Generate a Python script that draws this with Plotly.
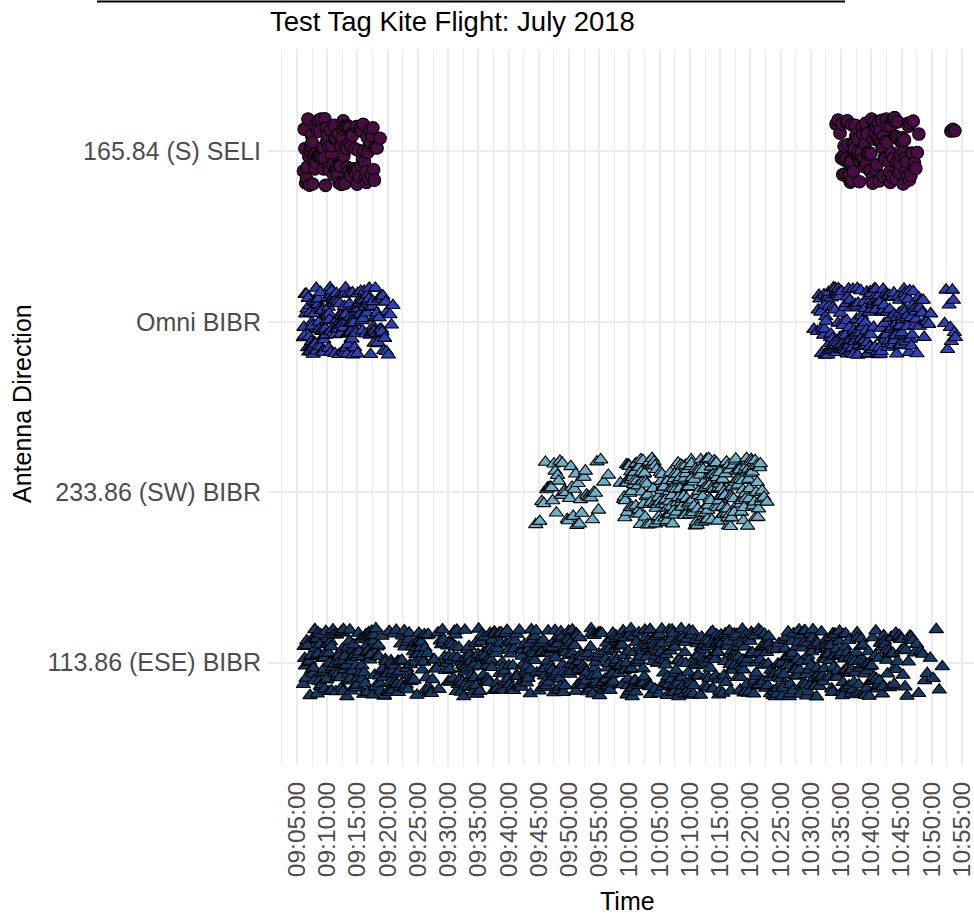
import math
import pandas as pd
import plotly.graph_objects as go

# ---------------------------------------------------------------------------
# Data: tag detections per minute for each antenna, 09:05 ... 10:54
# (each row below covers ten minutes)
# ---------------------------------------------------------------------------
FLIGHT_DAY = "2018-07-14"
FIRST_MINUTE = 5  # first entry of every count list is 09:05

TITLE = "Test Tag Kite Flight: July 2018"
X_TITLE = "Time"
Y_TITLE = "Antenna Direction"

ANTENNAS = ["113.86 (ESE) BIBR", "233.86 (SW) BIBR", "Omni BIBR", "165.84 (S) SELI"]

ESE_COUNTS = [
    0, 9, 10, 10, 11, 10, 10, 11, 10, 10,    # 09:05
    10, 11, 10, 10, 9, 10, 11, 10, 10, 10,   # 09:15
    10, 9, 6, 5, 8, 10, 10, 11, 10, 10,      # 09:25
    10, 11, 10, 10, 10, 9, 7, 10, 11, 10,    # 09:35
    10, 10, 11, 10, 10, 10, 11, 10, 10, 10,  # 09:45
    10, 11, 10, 10, 11, 10, 10, 10, 11, 10,  # 09:55
    10, 10, 11, 10, 10, 10, 10, 11, 10, 10,  # 10:05
    10, 10, 10, 11, 10, 10, 10, 10, 11, 10,  # 10:15
    10, 10, 10, 10, 11, 10, 10, 10, 10, 10,  # 10:25
    11, 10, 10, 10, 10, 10, 9, 8, 8, 7,      # 10:35
    6, 4, 3, 3, 2, 2, 2, 0, 0, 0,            # 10:45
]

SW_COUNTS = [
    0, 0, 0, 0, 0, 0, 0, 0, 0, 0,            # 09:05
    0, 0, 0, 0, 0, 0, 0, 0, 0, 0,            # 09:15
    0, 0, 0, 0, 0, 0, 0, 0, 0, 0,            # 09:25
    0, 0, 0, 0, 0, 0, 0, 0, 0, 1,            # 09:35
    3, 5, 5, 5, 5, 5, 5, 5, 4, 4,            # 09:45
    2, 1, 0, 1, 11, 12, 12, 11, 10, 11,      # 09:55
    12, 12, 13, 13, 12, 12, 12, 13, 12, 12,  # 10:05
    13, 12, 11, 11, 12, 11, 10, 2, 0, 0,     # 10:15
    0, 0, 0, 0, 0, 0, 0, 0, 0, 0,            # 10:25
    0, 0, 0, 0, 0, 0, 0, 0, 0, 0,            # 10:35
    0, 0, 0, 0, 0, 0, 0, 0, 0, 0,            # 10:45
]

OMNI_COUNTS = [
    0, 10, 14, 14, 15, 14, 14, 15, 14, 14,   # 09:05
    14, 13, 14, 11, 7, 4, 0, 0, 0, 0,        # 09:15
    0, 0, 0, 0, 0, 0, 0, 0, 0, 0,            # 09:25
    0, 0, 0, 0, 0, 0, 0, 0, 0, 0,            # 09:35
    0, 0, 0, 0, 0, 0, 0, 0, 0, 0,            # 09:45
    0, 0, 0, 0, 0, 0, 0, 0, 0, 0,            # 09:55
    0, 0, 0, 0, 0, 0, 0, 0, 0, 0,            # 10:05
    0, 0, 0, 0, 0, 0, 0, 0, 0, 0,            # 10:15
    0, 0, 0, 0, 0, 1, 7, 14, 14, 15,         # 10:25
    14, 14, 15, 14, 14, 14, 13, 14, 13, 12,  # 10:35
    11, 10, 8, 6, 3, 0, 0, 4, 6, 0,          # 10:45
]

SELI_COUNTS = [
    0, 8, 9, 10, 9, 8, 9, 10, 10, 9,         # 09:05
    9, 9, 8, 2, 0, 0, 0, 0, 0, 0,            # 09:15
    0, 0, 0, 0, 0, 0, 0, 0, 0, 0,            # 09:25
    0, 0, 0, 0, 0, 0, 0, 0, 0, 0,            # 09:35
    0, 0, 0, 0, 0, 0, 0, 0, 0, 0,            # 09:45
    0, 0, 0, 0, 0, 0, 0, 0, 0, 0,            # 09:55
    0, 0, 0, 0, 0, 0, 0, 0, 0, 0,            # 10:05
    0, 0, 0, 0, 0, 0, 0, 0, 0, 0,            # 10:15
    0, 0, 0, 0, 0, 0, 0, 0, 0, 3,            # 10:25
    9, 10, 10, 9, 9, 10, 10, 9, 10, 9,       # 10:35
    9, 8, 4, 0, 0, 0, 0, 0, 3, 0,            # 10:45
]

TICK_START = "09:05:00"

# ---------------------------------------------------------------------------
# Styling
# ---------------------------------------------------------------------------
W, H = 974, 914
PANEL_L, PANEL_R, PANEL_T, PANEL_B = 268, 974, 49, 765
PX_PER_MIN = 6.045
TICK0_PX = 297

STYLE = {
    "113.86 (ESE) BIBR": dict(symbol="triangle-up", color="#153A64", size=12.5),
    "233.86 (SW) BIBR": dict(symbol="triangle-up", color="#6DAEC9", size=12.5),
    "Omni BIBR": dict(symbol="triangle-up", color="#2B41B4", size=12.5),
    "165.84 (S) SELI": dict(symbol="circle", color="#470C40", size=12.5),
}
JITTER_HEIGHT = 0.2

FONT = "Liberation Sans, Arial, Helvetica, sans-serif"
TEXT_GREY = "#4D4D4D"
GRID = "#EBEBEB"

base = pd.Timestamp(f"{FLIGHT_DAY} 09:00:00")


def detection_times(counts):
    """Spread each minute's detections across that minute."""
    times = []
    for j, n in enumerate(counts):
        for k in range(n):
            times.append(base + pd.Timedelta(minutes=FIRST_MINUTE + j + (k + 0.5) / n))
    return times


def jitter_fraction(i, level):
    """Deterministic hash in [0, 1) used to scatter points vertically."""
    v = math.sin(i * 12.9898 + level * 78.233) * 43758.5453
    return v - math.floor(v)


def jittered_levels(n, level):
    return [level + JITTER_HEIGHT * (2 * jitter_fraction(i, level) - 1) for i in range(n)]


def px_x(px):
    return (px - PANEL_L) / (PANEL_R - PANEL_L)


def px_y(py):
    return (PANEL_B - py) / (PANEL_B - PANEL_T)


counts_by_antenna = {
    ANTENNAS[0]: ESE_COUNTS,
    ANTENNAS[1]: SW_COUNTS,
    ANTENNAS[2]: OMNI_COUNTS,
    ANTENNAS[3]: SELI_COUNTS,
}

fig = go.Figure()
for level, name in enumerate(ANTENNAS, start=1):
    xs = detection_times(counts_by_antenna[name])
    ys = jittered_levels(len(xs), level)
    st = STYLE[name]
    fig.add_trace(go.Scatter(
        x=xs, y=ys, mode="markers", name=name, showlegend=False,
        marker=dict(symbol=st["symbol"], size=st["size"], color=st["color"],
                    line=dict(color="#000000", width=1.1)),
    ))

x_start = base + pd.Timedelta(minutes=FIRST_MINUTE - (TICK0_PX - PANEL_L) / PX_PER_MIN)
x_end = base + pd.Timedelta(minutes=FIRST_MINUTE + (PANEL_R - TICK0_PX) / PX_PER_MIN)

fig.update_layout(
    width=W, height=H,
    margin=dict(l=PANEL_L, r=W - PANEL_R, t=PANEL_T, b=H - PANEL_B, autoexpand=False),
    paper_bgcolor="white", plot_bgcolor="white",
    font=dict(family=FONT, color=TEXT_GREY),
    xaxis=dict(
        type="date", range=[x_start, x_end],
        tickmode="linear", tick0=f"{FLIGHT_DAY} {TICK_START}", dtick=300000,
        tickformat="%H:%M:%S", tickangle=-90, ticklabeloverflow="allow",
        tickfont=dict(size=24.5, color=TEXT_GREY, family=FONT),
        ticks="outside", ticklen=6, tickcolor="rgba(0,0,0,0)",
        showgrid=True, gridcolor=GRID, gridwidth=1.6,
        minor=dict(dtick=150000, tick0=f"{FLIGHT_DAY} 09:02:30",
                   showgrid=True, gridcolor=GRID, gridwidth=0.9),
        zeroline=False, showline=False,
    ),
    yaxis=dict(
        range=[0.4, len(ANTENNAS) + 0.6],
        tickmode="array", tickvals=list(range(1, len(ANTENNAS) + 1)), ticktext=ANTENNAS,
        tickfont=dict(size=25, color=TEXT_GREY, family=FONT),
        ticks="outside", ticklen=1, tickcolor="rgba(0,0,0,0)",
        showgrid=True, gridcolor=GRID, gridwidth=1.6,
        zeroline=False, showline=False,
    ),
    shapes=[dict(type="line", xref="paper", yref="paper",
                 x0=px_x(97), x1=px_x(845), y0=px_y(1.5), y1=px_y(1.5),
                 line=dict(color="black", width=2))],
    annotations=[
        dict(text=TITLE, xref="paper", yref="paper", x=px_x(PANEL_L), y=px_y(21),
             xanchor="left", yanchor="middle", showarrow=False,
             font=dict(size=27.5, color="black", family=FONT)),
        dict(text=Y_TITLE, xref="paper", yref="paper", x=px_x(22), y=px_y(404),
             xanchor="center", yanchor="middle", textangle=-90, showarrow=False,
             font=dict(size=25, color="black", family=FONT)),
        dict(text=X_TITLE, xref="paper", yref="paper", x=px_x(627), y=px_y(901),
             xanchor="center", yanchor="middle", showarrow=False,
             font=dict(size=25, color="black", family=FONT)),
    ],
)

fig.write_html("out.html")
